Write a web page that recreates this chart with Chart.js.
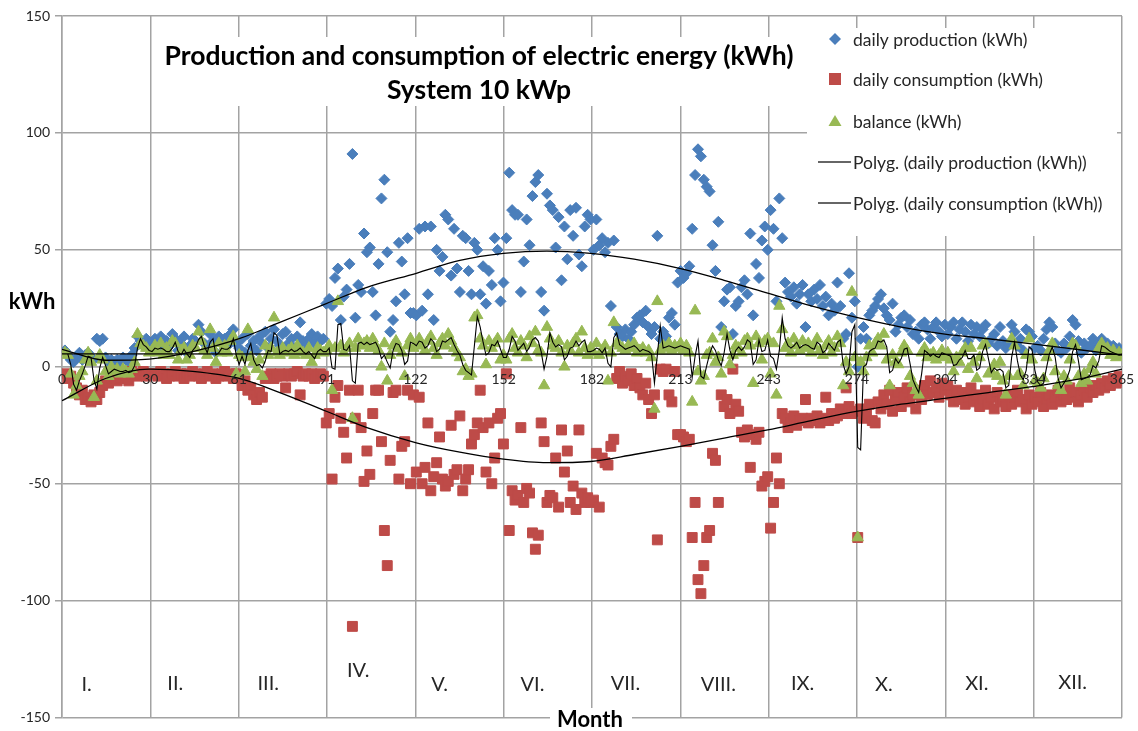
<!DOCTYPE html>
<html><head><meta charset="utf-8">
<script src="https://cdn.jsdelivr.net/npm/chart.js@4"></script>
<style>html,body{margin:0;padding:0;background:#fff;overflow:hidden}canvas{display:block}</style>
</head><body>
<canvas id="c" width="1138" height="731" style="width:1138px;height:731px"></canvas>
<script>
// ---------- DATA (kWh per day, day 1..365) ----------
const productionByMonth = [
  [7,5,3,2,4,6,3,5,6,4,3,12,11,12,4,2,3,2,3,2,4,3,2,5,8,13,11,9,12,10,8],
  [12,10,13,8,11,9,14,12,7,10,13,6,9,12,11,18,15,10,8,14,11,6,13,10,12,9,14,16],
  [10,8,12,6,14,9,11,7,13,10,15,8,12,16,11,9,14,15,10,12,8,13,19,11,9,12,14,10,13,11,12],
  [27,29,26,38,42,20,30,33,44,91,21,35,32,57,49,51,32,22,44,72,80,49,15,20,28,53,45,31,55,23],
  [23,22,59,24,60,31,60,20,50,41,47,65,63,39,59,42,32,56,55,41,31,53,50,31,43,27,41,35,55,50,28],
  [36,55,83,67,65,65,32,45,63,52,73,79,82,32,24,74,69,67,51,64,37,60,46,67,56,68,48,43,60,65],
  [63,50,63,52,55,49,53,26,54,17,14,13,16,12,15,18,21,22,19,24,17,14,17,56,12,15,13,21,23,18,36],
  [41,38,40,43,59,82,93,90,80,77,75,52,41,62,17,28,33,34,14,26,28,34,37,31,57,22,44,38,54,60,50],
  [67,59,28,72,55,36,32,30,34,27,31,35,17,31,28,33,29,35,26,30,22,27,24,36,26,12,14,40,21,28],
  [0,12,17,12,22,24,26,29,31,25,22,20,27,15,18,21,22,17,20,14,15,12,18,19,16,12,17,19,15,13,18],
  [14,17,19,12,16,19,15,11,18,14,17,13,16,18,10,12,14,9,17,11,8,10,18,15,9,12,7,16,15,13],
  [8,9,7,12,16,19,17,10,7,6,10,8,13,20,18,11,6,10,8,9,12,7,10,12,9,10,8,9,7,8,7]
];
const consumptionByMonth = [
  [-3,-5,-4,-7,-9,-12,-10,-14,-13,-15,-12,-14,-11,-8,-6,-7,-5,-4,-6,-5,-3,-4,-6,-2,-3,-4,-3,-2,-4,-3,-3],
  [-3,-4,-2,-3,-5,-4,-3,-2,-4,-3,-5,-3,-4,-2,-3,-4,-5,-3,-2,-4,-3,-5,-4,-3,-2,-4,-3,-5],
  [-3,-4,-8,-6,-10,-9,-12,-14,-11,-13,-5,-4,-3,-5,-4,-3,-4,-9,-3,-4,-3,-2,-12,-4,-3,-4,-3,-5,-4,-3,-4],
  [-24,-20,-48,-13,-8,-22,-28,-39,-10,-111,-22,-10,-26,-49,-36,-46,-20,-10,-10,-32,-70,-85,-40,-11,-10,-48,-34,-32,-10,-50],
  [-12,-45,-13,-50,-43,-24,-53,-47,-41,-30,-48,-51,-49,-25,-46,-44,-21,-53,-48,-44,-33,-29,-24,-10,-26,-45,-24,-50,-39,-22,-20],
  [-33,-3,-70,-53,-57,-55,-26,-58,-52,-54,-71,-78,-72,-24,-32,-58,-55,-56,-39,-60,-27,-45,-36,-58,-51,-61,-27,-54,-58,-56],
  [-58,-57,-37,-60,-39,-41,-42,-34,-31,-5,-2,-7,-4,-6,-3,-8,-5,-9,-12,-7,-14,-20,-12,-74,-1,-2,-1,-12,-15,-2,-29],
  [-29,-30,-32,-31,-73,-58,-91,-97,-85,-73,-70,-37,-40,-58,-12,-17,-14,-20,-1,-16,-19,-28,-30,-27,-43,-29,-31,-28,-51,-49,-47],
  [-69,-58,-39,-50,-20,-22,-26,-24,-21,-25,-23,-22,-14,-24,-22,-23,-21,-24,-22,-13,-23,-20,-22,-21,-18,-20,-9,-17,-20,-19],
  [-73,-18,-22,-20,-16,-23,-24,-15,-18,-12,-16,-10,-19,-14,-11,-17,-13,-9,-15,-12,-18,-10,-14,-8,-12,-6,-11,-9,-13,-7,-10],
  [-8,-12,-15,-10,-14,-11,-16,-13,-9,-15,-12,-17,-14,-10,-16,-13,-18,-11,-15,-14,-17,-12,-16,-13,-10,-15,-14,-18,-12,-16],
  [-13,-15,-11,-17,-14,-12,-16,-13,-10,-15,-12,-14,-9,-13,-11,-15,-12,-10,-13,-9,-11,-8,-10,-7,-9,-6,-8,-5,-7,-4,-6]
];
const balanceByMonth = [
  [6,5,-3,-12,-8,-4,-2,3,6,2,-13,-6,5,3,-2,-4,0,-2,-1,-3,-1,-2,-3,-1,2,14,10,9,8,6,7],
  [9,6,10,5,8,5,11,10,3,7,8,3,5,9,8,15,11,7,5,16,8,2,10,6,9,6,11,13],
  [-3,5,4,-2,16,4,2,-1,3,-4,9,5,8,21,6,5,8,6,7,8,5,9,7,6,5,8,2,5,8,7,6],
  [7,9,-10,8,28,9,6,8,10,-22,8,12,9,10,11,8,12,9,7,0,10,-6,5,9,11,8,6,-4,9,12],
  [8,10,12,9,7,11,13,8,5,10,12,9,14,11,8,6,4,-2,-1,-4,-3,21,22,12,9,1,11,8,10,12,3],
  [5,3,12,14,8,6,11,9,4,13,10,15,7,6,-8,17,12,9,8,11,6,0,9,7,10,12,6,15,8,5],
  [8,6,10,5,7,9,-6,6,19,10,9,8,7,9,8,10,6,7,8,6,7,4,-18,28,7,9,8,10,7,9,8],
  [10,7,9,6,-15,24,-2,-6,-4,5,6,12,2,4,-3,15,13,1,5,9,8,6,11,12,9,-7,13,10,3,11,12],
  [-3,10,-12,26,16,8,10,6,12,9,7,11,8,10,6,9,12,7,5,9,11,6,8,13,10,-8,2,-2,32,4],
  [-73,2,-2,4,9,6,10,12,9,14,3,-8,5,2,1,6,9,7,-4,-7,-10,-12,6,8,4,5,6,3,5,7,4],
  [6,3,-2,4,2,6,8,-1,8,2,-5,4,9,10,-3,-2,1,-4,2,-6,-12,-4,12,9,-4,-3,-8,5,12,3],
  [-6,-7,-9,-5,4,7,10,-2,-8,-10,-4,-6,3,10,9,-4,-7,-3,-6,-1,2,-3,8,10,7,8,5,7,4,6,5]
];
const production = productionByMonth.flat();
const consumption = consumptionByMonth.flat();
const balance = balanceByMonth.flat();

const trendDays = [0,15,30,45,61,75,91,105,122,137,152,167,182,197,213,228,243,258,274,289,304,319,334,349,365];
const productionTrend = [7.5,2.8,3.3,6.5,12,19,27,34,40,45.5,48.5,49.5,48.5,46,42,37,31.5,26,21,17,14,12,9.8,7.5,5];
const consumptionTrend = [-14.5,-5,-1,-2,-5,-11,-19,-26,-32.5,-36.5,-39.5,-41,-40.5,-37.5,-34,-30.5,-27,-23,-19,-16,-13.5,-11,-8.5,-5.5,-1];
const balanceTrendDays = [0,365];
const balanceTrend = [5.5,5.3];

// axis ticks / labels
const xTickDays = [0,1,2,3,4,5,6,7,8,9,10,11,12].map(i => i*365/12);
const xTickLabels = ['0','30','61','91','122','152','182','213','243','274','304','334','365'];
const monthNames = ['I.','II.','III.','IV.','V.','VI.','VII.','VIII.','IX.','X.','XI.','XII.'];
const titleLines = ['Production and consumption of electric energy (kWh)','System 10 kWp'];
const yTitle = 'kWh';
const xTitle = 'Month';

// ---------- presentation ----------
const monthLabelPos = { day:[8.5,39,71,102,130,162,194,226,255,283,315,348], val:[-136,-135.5,-135.5,-130,-136,-136,-135.5,-136,-135.5,-136,-135.5,-135] };
const FONT = 'Lato, "Open Sans", sans-serif';
const GRID = '#a3a3a3';
const TXT = '#262626';
const C_BLUE = '#4A7EBB', C_RED = '#BE4B48', C_GREEN = '#98B954';

const pts = arr => arr.map((v,i) => ({x:i+1, y:v}));
const pairs = (xs, ys) => xs.map((x,i) => ({x, y: ys[i]}));
const movingAvg = balance.slice(1).map((v,i) => ({x:i+2, y:(balance[i]+v)/2}));

const datasets = [
  {label:'daily production (kWh)', data:pts(production), pointStyle:'rectRot', pointRadius:5.5, backgroundColor:C_BLUE, borderColor:C_BLUE, borderWidth:1, showLine:false, order:7},
  {label:'daily consumption (kWh)', data:pts(consumption), pointStyle:'rect', pointRadius:7, backgroundColor:C_RED, borderColor:C_RED, borderWidth:1, showLine:false, order:6},
  {label:'balance (kWh)', data:pts(balance), pointStyle:'triangle', pointRadius:6.5, backgroundColor:C_GREEN, borderColor:C_GREEN, borderWidth:1, showLine:false, order:5},
  {label:'Polyg. (daily production (kWh))', data:pairs(trendDays, productionTrend), showLine:true, pointRadius:0, borderColor:'#000', borderWidth:1.3, cubicInterpolationMode:'monotone', order:2},
  {label:'Polyg. (daily consumption (kWh))', data:pairs(trendDays, consumptionTrend), showLine:true, pointRadius:0, borderColor:'#000', borderWidth:1.3, cubicInterpolationMode:'monotone', order:2},
  {label:'2 per. Mov. Avg. (balance (kWh))', data:movingAvg, showLine:true, pointRadius:0, borderColor:'#000', borderWidth:1.1, order:1},
  {label:'Linear (balance (kWh))', data:pairs(balanceTrendDays, balanceTrend), showLine:true, pointRadius:0, borderColor:'#000', borderWidth:1.3, order:1}
];

const decor = {
  id:'decor',
  beforeDatasetsDraw(chart){
    const ctx = chart.ctx;
    ctx.save();
    ctx.fillStyle = '#fff';
    ctx.fillRect(157, 37, 642, 69);   // title box
    ctx.fillRect(807, 28, 310, 208);  // legend box
    ctx.restore();
  },
  afterDraw(chart){
    const ctx = chart.ctx, xs = chart.scales.x, ys = chart.scales.y;
    ctx.save();
    // x tick labels on top of the marks
    ctx.fillStyle = TXT;
    ctx.font = '14px ' + FONT;
    ctx.textAlign = 'center'; ctx.textBaseline = 'top';
    const y0 = ys.getPixelForValue(0) + 6;
    xTickDays.forEach((d,i) => ctx.fillText(xTickLabels[i], xs.getPixelForValue(d), y0));
    // title
    ctx.fillStyle = '#000';
    ctx.textBaseline = 'middle';
    ctx.font = 'bold 26.5px ' + FONT;
    ctx.fillText(titleLines[0], 479, 56);
    ctx.fillText(titleLines[1], 479, 90);
    // axis titles
    ctx.font = 'bold 22px ' + FONT;
    ctx.fillText(yTitle, 32, 302);
    ctx.fillStyle = '#fff';
    ctx.fillRect(550, 708, 82, 23);
    ctx.fillStyle = '#000';
    ctx.fillText(xTitle, 590, 720);
    // month labels
    ctx.fillStyle = TXT;
    ctx.font = '20px ' + FONT;
    monthNames.forEach((m,i) => {
      ctx.fillText(m, xs.getPixelForValue(monthLabelPos.day[i]), ys.getPixelForValue(monthLabelPos.val[i]));
    });
    // legend
    const rows = [39, 79, 121, 162, 203];
    ctx.textAlign = 'left';
    ctx.font = '17.5px ' + FONT;
    for (let i = 0; i < 5; i++) {
      const y = rows[i], ds = chart.data.datasets[i];
      ctx.fillStyle = ds.backgroundColor || '#000';
      if (i === 0) { ctx.beginPath(); ctx.moveTo(835,y-6); ctx.lineTo(841,y); ctx.lineTo(835,y+6); ctx.lineTo(829,y); ctx.closePath(); ctx.fill(); }
      else if (i === 1) { ctx.fillRect(829, y-6, 12, 12); }
      else if (i === 2) { ctx.beginPath(); ctx.moveTo(835,y-6); ctx.lineTo(841.5,y+5); ctx.lineTo(828.5,y+5); ctx.closePath(); ctx.fill(); }
      else { ctx.strokeStyle = '#333'; ctx.lineWidth = 1.5; ctx.beginPath(); ctx.moveTo(818,y); ctx.lineTo(851,y); ctx.stroke(); }
      ctx.fillStyle = TXT;
      ctx.fillText(ds.label, 853, y+1);
    }
    ctx.restore();
  }
};

new Chart(document.getElementById('c').getContext('2d'), {
  type:'scatter',
  data:{datasets},
  plugins:[decor],
  options:{
    responsive:false, animation:false, devicePixelRatio:1,
    layout:{padding:{left:0,right:16,top:16,bottom:9}},
    plugins:{legend:{display:false}, tooltip:{enabled:false}},
    scales:{
      x:{
        type:'linear', min:0, max:365, position:{y:0},
        afterBuildTicks:s => { s.ticks = xTickDays.map(v => ({value:v})); },
        ticks:{display:false, autoSkip:false, maxRotation:0},
        grid:{color:GRID, lineWidth:1.5, drawTicks:false},
        border:{color:GRID, width:1.5}
      },
      y:{
        min:-150, max:150,
        afterFit:s => { s.width = 62; },
        ticks:{stepSize:50, padding:5, color:TXT, font:{family:FONT, size:14}},
        grid:{color:GRID, lineWidth:1.5, tickLength:7},
        border:{color:GRID, width:1.5}
      }
    }
  }
});
</script>
</body></html>
